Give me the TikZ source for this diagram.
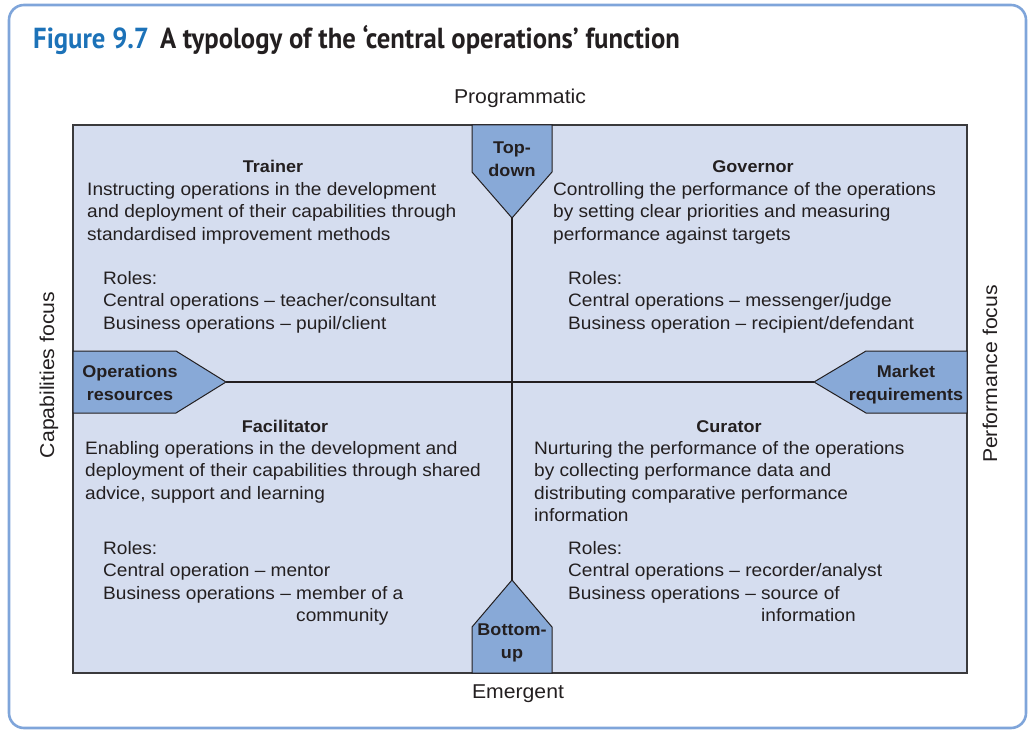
\documentclass[tikz,border=0pt]{standalone}
\usepackage{fontspec}
\setmainfont{Liberation Sans}[FakeStretch=1.06]
\newfontfamily\titlefont[FakeStretch=0.92]{PT Sans}
\usetikzlibrary{positioning}
\definecolor{cframe}{HTML}{7FA5DA}
\definecolor{cpanel}{HTML}{D5DDEF}
\definecolor{cflag}{HTML}{88A9D7}
\definecolor{ctitle}{HTML}{1C72B8}
\definecolor{cink}{HTML}{231F20}
\definecolor{cedge}{HTML}{3A3A3C}
\tikzset{
  every picture/.style={x=1pt, y=-1pt, font=\fontsize{18}{22.5}\selectfont, text=cink},
  outerframe/.style={draw=cframe, line width=2.6pt, rounded corners=15pt},
  panel/.style={draw=cedge, fill=cpanel, line width=1.4pt},
  flag/.style={draw=cink, fill=cflag, line width=1pt, line join=miter},
  axisline/.style={draw=cink, line width=1.1pt},
  heading/.style={font=\fontsize{17}{22.5}\selectfont\bfseries, anchor=base, inner sep=0pt},
  body/.style={align=left, anchor=north west, inner sep=0pt},
  flagtext/.style={font=\fontsize{17}{23}\selectfont\bfseries, align=center, anchor=north, inner sep=0pt},
  sidelabel/.style={font=\fontsize{20}{24}\selectfont, anchor=base, inner sep=0pt},
  figtitle/.style={font=\titlefont\fontsize{29}{32}\selectfont\bfseries, anchor=base west, inner sep=0pt},
}

\begin{document}
\begin{tikzpicture}
  \useasboundingbox (0,0) rectangle (1028,730);
  \draw[outerframe] (9,5) rectangle (1026,728);
  \node[figtitle] (title) at (33,49)
    {\textcolor{ctitle}{Figure 9.7}\hspace{11pt}A typology of the ‘central operations’ function};

  % quadrant panel and axes
  \draw[panel] (73,125) rectangle (967,673);
  \coordinate (tdtip) at (512,218);
  \coordinate (butip) at (512,580);
  \coordinate (ortip) at (226,382);
  \coordinate (mrtip) at (814,382);
  \draw[axisline] (tdtip) -- (butip);
  \draw[axisline] (ortip) -- (mrtip);

  % flags on the axes
  \draw[flag] (472,125) -- (552,125) -- (552,172) -- (tdtip) -- (472,172) -- cycle;
  \draw[flag] (472,673) -- (552,673) -- (552,627) -- (butip) -- (472,627) -- cycle;
  \draw[flag] (73,351) -- (176,351) -- (ortip) -- (176,413) -- (73,413) -- cycle;
  \draw[flag] (967,351) -- (866,351) -- (mrtip) -- (866,413) -- (967,413) -- cycle;
  \node[flagtext] (topdown) at (512,142) {Top-\\down};
  \node[flagtext] (bottomup) at (512,624) {Bottom-\\up};
  \node[flagtext] (opsres) at (130,365) {Operations\\resources};
  \node[flagtext] (mktreq) at (906,365) {Market\\requirements};

  % axis labels
  \node[sidelabel] (prog) at (520,104) {Programmatic};
  \node[sidelabel] (emerg) at (518,698) {Emergent};
  \node[sidelabel, rotate=90] (capfocus) at (54,375) {Capabilities focus};
  \node[sidelabel, rotate=90] (perffocus) at (997,374) {Performance focus};

  % Trainer
  \node[heading] (trainer) at (273,173) {Trainer};
  \node[body] (trainerdesc) at (87,182) {Instructing operations in the development\\and deployment of their capabilities through\\standardised improvement methods};
  \node[body] (trainerroles) at (103,271) {Roles:\\Central operations – teacher/consultant\\Business operations – pupil/client};

  % Governor
  \node[heading] (governor) at (753,173) {Governor};
  \node[body] (governordesc) at (553,182) {Controlling the performance of the operations\\by setting clear priorities and measuring\\performance against targets};
  \node[body] (governorroles) at (568,271) {Roles:\\Central operations – messenger/judge\\Business operation – recipient/defendant};

  % Facilitator
  \node[heading] (facilitator) at (285,432) {Facilitator};
  \node[body] (facilitatordesc) at (85,441) {Enabling operations in the development and\\deployment of their capabilities through shared\\advice, support and learning};
  \node[body] (facilitatorroles) at (103,541) {Roles:\\Central operation – mentor\\Business operations – member of a\\\phantom{Business operations – }community};

  % Curator
  \node[heading] (curator) at (729,432) {Curator};
  \node[body] (curatordesc) at (534,441) {Nurturing the performance of the operations\\by collecting performance data and\\distributing comparative performance\\information};
  \node[body] (curatorroles) at (568,541) {Roles:\\Central operations – recorder/analyst\\Business operations – source of\\\phantom{Business operations – }information};
\end{tikzpicture}
\end{document}
